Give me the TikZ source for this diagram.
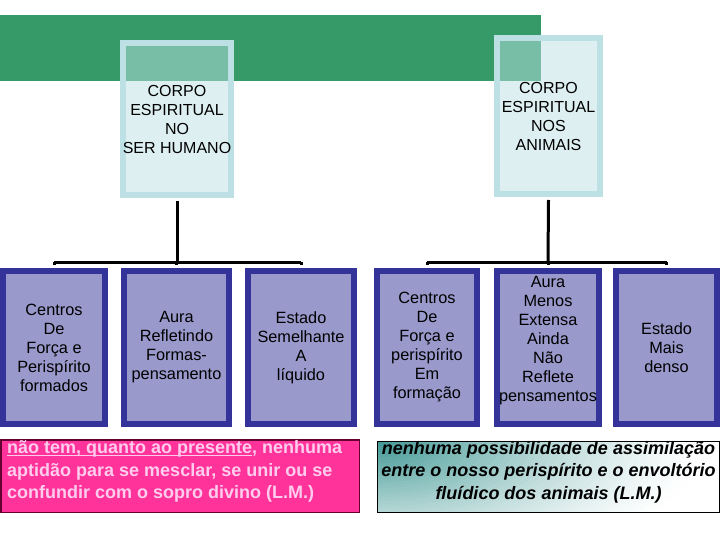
\documentclass[tikz,border=0pt]{standalone}
\usepackage{fontspec}
\setmainfont{Liberation Sans}
\definecolor{bargreen}{HTML}{359A68}
\definecolor{hdrblue}{HTML}{BCE0E3}
\definecolor{navy}{HTML}{333399}
\definecolor{lav}{HTML}{9999CC}
\definecolor{hotpink}{HTML}{FF3399}
\definecolor{pinktext}{HTML}{FFCCEE}
\definecolor{pinkborder}{HTML}{660033}
\definecolor{tealc}{HTML}{2A8C88}
\newcommand\myul[1]{\setbox0\hbox{#1}\rlap{\rule[-2.4pt]{\wd0}{1.4pt}}\box0}
\tikzset{
  hdr/.style={draw=hdrblue, line width=6pt, fill=hdrblue, fill opacity=0.5, text opacity=1,
    inner sep=0pt, align=center, font=\fontsize{16}{19}\selectfont},
  lowbox/.style={draw=navy, line width=6pt, fill=lav, inner sep=0pt,
    minimum height=153pt, align=center, font=\fontsize{16.3}{19}\selectfont},
  link/.style={line width=3pt, black},
  notefont/.style={font=\fontsize{18}{22.5}\selectfont\bfseries, inner sep=0pt}
}
\begin{document}
\begin{tikzpicture}[x=1pt,y=-1pt]
\useasboundingbox (0,0) rectangle (720,540);
% green bar
\fill[bargreen] (0,15) rectangle (541,81);
% header boxes
\node[hdr, minimum width=106pt, minimum height=152pt] (h1) at (177,119) {CORPO\\ESPIRITUAL\\NO\\SER HUMANO};
\node[hdr, minimum width=103pt, minimum height=156pt] (h2) at (548.5,116) {CORPO\\ESPIRITUAL\\NOS\\ANIMAIS};
% lower boxes
\node[lowbox, minimum width=102pt] (b1) at (54,347.5) {Centros\\De\\Força e\\Perispírito\\formados};
\node[lowbox, minimum width=105pt] (b2) at (176.5,347.5) {Aura\\Refletindo\\Formas-\\pensamento};
\node[lowbox, minimum width=106pt] (b3) at (301,347.5) {Estado\\Semelhante\\A\\líquido};
\node[lowbox, minimum width=100pt] (b4) at (427,347.5) {Centros\\De\\Força e\\perispírito\\Em\\formação};
\node[lowbox, minimum width=102pt] (b5) at (548,347.5) {};
\node[align=center, inner sep=0pt, font=\fontsize{16.3}{19}\selectfont] (b5t) at (548,341) {Aura\\Menos\\Extensa\\Ainda\\Não\\Reflete\\pensamentos};
\node[lowbox, minimum width=101pt] (b6) at (666.5,347.5) {Estado\\Mais\\denso};
% connectors
\coordinate (j1) at (177,262);
\coordinate (j2) at (548,262);
\begin{scope}[link]
\draw ([yshift=-3pt]h1.south) -- (j1);
\draw (b1.north |- j1) -- (b3.north |- j1);
\draw ([yshift=-3pt]h2.south) -- (j2);
\draw (b4.north |- j2) -- (b6.north |- j2);
\foreach \b in {b1,b2,b3,b4,b5,b6} { \draw (\b.north |- j1) -- ([yshift=3pt]\b.north); }
\end{scope}
% pink note
\node[draw=pinkborder, line width=1.5pt, fill=hotpink, minimum width=358.5pt, minimum height=72.5pt, inner sep=0pt] (pk) at (180,476) {};
\node[notefont, text=pinktext, anchor=north west, align=left] (pkt) at (7,440.5)
  {\myul{não tem, quanto ao presente}, nenhuma\\aptidão para se mesclar, se unir ou se\\confundir com o sopro divino (L.M.)};
% teal note: corner glow built from nested ellipses
\begin{scope}
\clip (377.5,441.5) rectangle (719.5,512.5);
\fill[white] (377.5,441.5) rectangle (719.5,512.5);
\foreach \k in {0,...,44} {
  \pgfmathsetmacro{\t}{1-\k/45}
  \pgfmathsetmacro{\p}{90*(1-\t)^1.3}
  \pgfmathsetmacro{\rx}{330*\t}
  \pgfmathsetmacro{\ry}{140*\t}
  \fill[tealc!\p!white] (377.5,441.5) ellipse ({\rx pt} and {\ry pt});
}
\end{scope}
\node[draw=black, line width=1pt, minimum width=342pt, minimum height=71pt, inner sep=0pt] (tl) at (548.5,477) {};
\node[notefont, font=\fontsize{18}{22.5}\selectfont\bfseries\itshape, anchor=north, align=center] (tlt) at (548.5,441)
  {nenhuma possibilidade de assimilação\\entre o nosso perispírito e o envoltório\\fluídico dos animais (L.M.)};
\end{tikzpicture}
\end{document}
